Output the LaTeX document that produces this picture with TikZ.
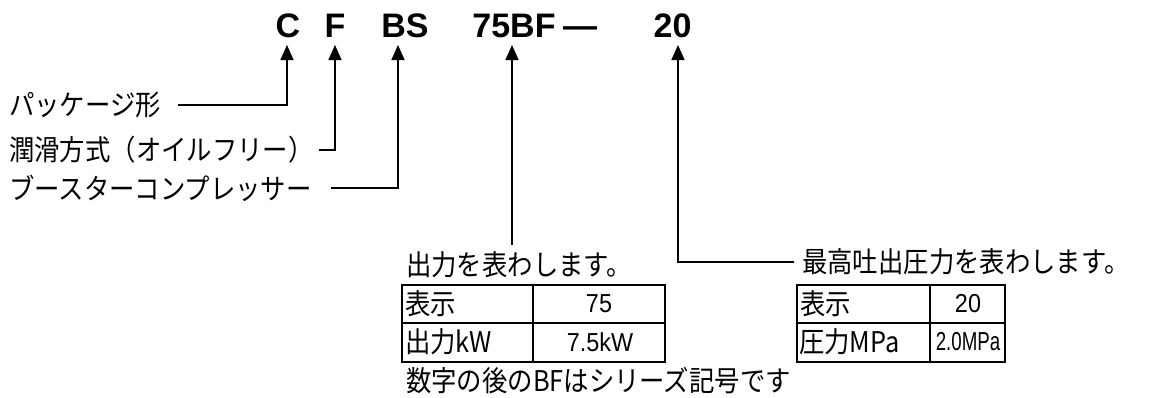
\documentclass[tikz,border=0pt]{standalone}
\usepackage{fontspec}
\setmainfont{Noto Sans CJK JP}
\newfontfamily\jpf{Noto Sans CJK JP}[FakeStretch=0.89]
\newfontfamily\ttlf{Liberation Sans}
\newfontfamily\numf{Liberation Sans}[FakeStretch=0.9]
\newfontfamily\numnf{Liberation Sans}[FakeStretch=0.72]
\usetikzlibrary{arrows.meta}
\begin{document}
\begin{tikzpicture}[x=1pt,y=-1pt,
  lbl/.style={font=\jpf\fontsize{28.5}{30}\selectfont, inner sep=0pt, anchor=west},
  ttl/.style={font=\ttlf\bfseries\fontsize{34}{40}\selectfont, inner sep=0pt, anchor=base},
  numx/.style={font=\numf\fontsize{26}{28}\selectfont, inner sep=0pt},
  numn/.style={font=\numnf\fontsize{26}{28}\selectfont, inner sep=0pt},
  conn/.style={line width=1.6pt},
  arr/.style={conn, -{Triangle[length=15pt,width=13pt]}},
  gridline/.style={line width=1.6pt}]
\useasboundingbox (0,0) rectangle (1156,397);
% title
\node[ttl] (C) at (288,37) {C};
\node[ttl] (F) at (335,37) {F};
\node[ttl] (BS) at (405,37) {BS};
\node[ttl] (N75) at (514,37) {75BF};
\node[ttl] (D) at (580,37) {—};
\node[ttl] (N20) at (672.5,37) {20};
% arrow tips
\coordinate (tipC) at (287,45);
\coordinate (tipF) at (335,45);
\coordinate (tipBS) at (398,45);
\coordinate (tip75) at (512,45);
\coordinate (tip20) at (678,45);
% left labels
\node[lbl] (L1) at (9,105) {パッケージ形};
\node[lbl] (L2) at (9,150) {潤滑方式（オイルフリー）};
\node[lbl] (L3) at (9,188) {ブースターコンプレッサー};
\draw[arr] ([xshift=17pt]L1.east) -| (tipC);
\draw[arr] ([xshift=5pt]L2.east) -| (tipF);
\draw[arr] ([xshift=19pt]L3.east) -| (tipBS);
% output
\node[lbl] (L4) at (406,265) {出力を表わします。};
\coordinate (p75) at (512,245);
\draw[arr] (p75) -- (tip75);
% pressure
\node[lbl] (L5) at (802,262) {最高吐出圧力を表わします。};
\draw[arr] ([xshift=-8pt]L5.west) -| (tip20);
% table 1
\draw[gridline] (402,285) rectangle (665,362) (402,323) -- (665,323) (533,285) -- (533,362);
\node[lbl] (T1a) at (405,304) {表示};
\node[numx] (T1b) at (599,304) {75};
\node[lbl] (T1c) at (405,342) {出力kW};
\node[numx] (T1d) at (600,342) {7.5kW};
% table 2
\draw[gridline] (797,285) rectangle (1005,362) (797,323) -- (1005,323) (930,285) -- (930,362);
\node[lbl] (T2a) at (800,304) {表示};
\node[numx] (T2b) at (968,304) {20};
\node[lbl] (T2c) at (799,342) {圧力MPa};
\node[numn] (T2d) at (968,342) {2.0MPa};
% note
\node[lbl] (L6) at (406,381) {数字の後のBFはシリーズ記号です};
\end{tikzpicture}
\end{document}
